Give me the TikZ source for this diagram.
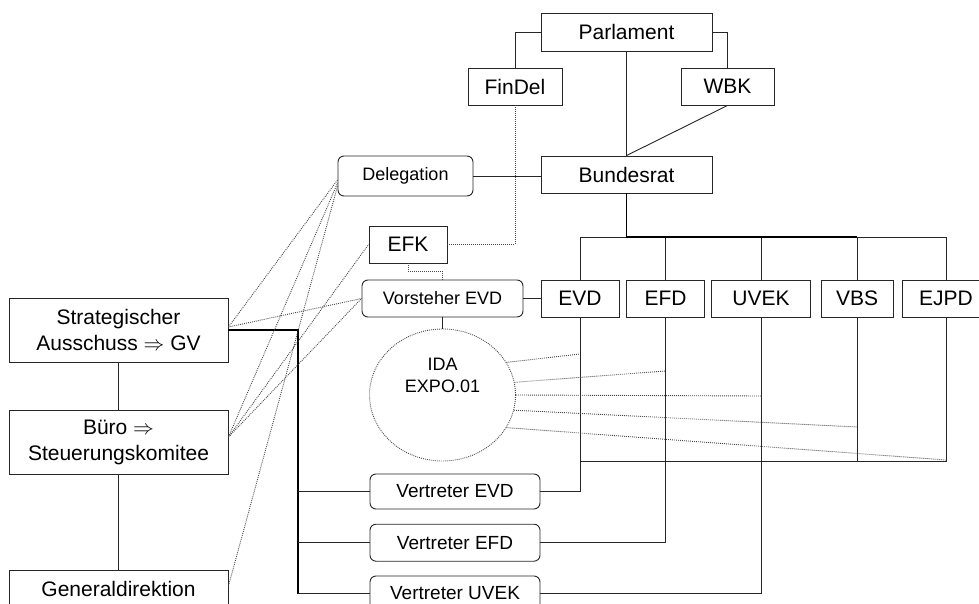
\documentclass[tikz,border=0pt]{standalone}
\usepackage{fontspec}
\setmainfont{Liberation Sans}
\usetikzlibrary{shapes.geometric}
\begin{document}
\begin{tikzpicture}[x=1pt,y=-1pt,
  every node/.style={font=\fontsize{21}{26}\selectfont},
  box/.style={draw=black!85, line width=0.9pt, inner sep=0pt, align=center, minimum height=37pt},
  rbox/.style={box, rounded corners=6pt, font=\fontsize{18}{22}\selectfont},
  vbox/.style={rbox, font=\fontsize{19}{22}\selectfont, minimum width=170pt, minimum height=35pt},
  ln/.style={line width=0.9pt, draw=black!85},
  thk/.style={line width=1.8pt, draw=black},
  dot/.style={line width=0.9pt, draw=black!72, dash pattern=on 0.9pt off 1.1pt}
]
\useasboundingbox (0,0) rectangle (979,604);
\clip (0,0) rectangle (979,604);

% top
\node[box, minimum width=171pt, minimum height=38pt] (parl) at (626.5,32) {Parlament};
\node[box, minimum width=94pt] (findel) at (515,86.5) {FinDel};
\node[box, minimum width=93pt] (wbk) at (727.5,86.5) {WBK};
\node[box, minimum width=171pt] (bund) at (626.5,174.5) {Bundesrat};
\node[rbox, minimum width=135pt, minimum height=40pt] (deleg) at (405.5,176) {Delegation};
\node[box, minimum width=78pt] (efk) at (408,244.5) {EFK};
\node[rbox, minimum width=161pt] (vorst) at (442.5,298.5) {Vorsteher EVD};

% departments
\node[box, minimum width=78pt] (evd) at (580,298.5) {EVD};
\node[box, minimum width=78pt] (efd) at (665.5,298.5) {EFD};
\node[box, minimum width=99pt] (uvek) at (761,298.5) {UVEK};
\node[box, minimum width=72pt] (vbs) at (857,298.5) {VBS};
\node[box, minimum width=88pt] (ejpd) at (946,298.5) {EJPD};

% left
\node[box, minimum width=219pt, minimum height=64pt] (strat) at (118.5,330) {Strategischer\\Ausschuss $\Rightarrow$ GV};
\node[box, minimum width=219pt, minimum height=64pt] (buero) at (118.5,442) {Büro $\Rightarrow$\\Steuerungskomitee};
\node[box, minimum width=219pt, minimum height=38pt] (gd) at (118.5,589) {Generaldirektion};

% IDA
\node[ellipse, dot, minimum width=146pt, minimum height=132pt, inner sep=0pt,
  label={[font=\fontsize{18}{22}\selectfont, align=center, yshift=20pt]center:IDA\\EXPO.01}] (ida) at (442.5,395) {};

% Vertreter
\node[vbox] (vevd) at (455,491.5) {Vertreter EVD};
\node[vbox, minimum height=37pt] (vefd) at (455,542.7) {Vertreter EFD};
\node[vbox] (vuvek) at (455,593.5) {Vertreter UVEK};

% coordinates
\coordinate (bus) at (626.5,237);
\coordinate (bb) at (0,461);
\coordinate (lv) at (298,330);
\coordinate (i1) at (580,354);
\coordinate (i2) at (665.5,371);
\coordinate (i3) at (761,396);
\coordinate (i4) at (857,427);
\coordinate (i5) at (946,460);

% solid connectors
\draw[ln] (parl.west) -| (findel.north);
\draw[ln] (parl.east) -| (wbk.north);
\draw[ln] (parl.south) -- (bund.north);
\draw[ln] (wbk.south) -- (bund.north);
\draw[ln] (deleg.east) -- (bund.west |- deleg.east);
\draw[ln] (evd.north) -- (evd.north |- bus) -- (ejpd.north |- bus) -- (ejpd.north);
\draw[ln] (efd.north) -- (efd.north |- bus);
\draw[ln] (uvek.north) -- (uvek.north |- bus);
\draw[ln] (vbs.north) -- (vbs.north |- bus);
\draw[thk] (bund.south) -- (bus) -- (vbs.north |- bus);
\draw[ln] (vorst.east) -- (evd.west);
\draw[ln] (vorst.south) -- (ida.north);
\draw[ln] (evd.south) |- (vevd.east);
\draw[ln] (efd.south) |- (vefd.east);
\draw[ln] (uvek.south) |- (vuvek.east);
\draw[ln] (vbs.south) -- (vbs.south |- bb);
\draw[ln] (ejpd.south) -- (ejpd.south |- bb) -- (evd.south |- bb);
\draw[ln] (strat.south) -- (buero.north);
\draw[ln] (buero.south) -- (gd.north);
\draw[thk] (strat.east) -- (lv) -- (lv |- vuvek.west);
\draw[ln] (lv |- vevd.west) -- (vevd.west);
\draw[ln] (lv |- vefd.west) -- (vefd.west);
\draw[ln] (lv |- vuvek.west) -- (vuvek.west);

% dotted connectors
\draw[dot] (findel.south) |- (efk.east);
\draw[dot] (efk.south) -- ++(0,8) -| (vorst.north);
\draw[dot] ([yshift=3pt]strat.east) -- ([yshift=-4pt]deleg.west);
\draw[dot] ([yshift=3pt]strat.east) -- (vorst.west);
\draw[dot] ([yshift=5pt]buero.east) -- ([yshift=-7pt]deleg.west);
\draw[dot] ([yshift=5pt]buero.east) -- (efk.west);
\draw[dot] ([yshift=5pt]buero.east) -- (vorst.west);
\draw[dot] ([yshift=3pt]gd.east) -- ([yshift=-10pt]deleg.west);
\draw[dot] (ida.27.6) -- (i1);
\draw[dot] (ida.10.5) -- (i2);
\draw[dot] (ida.0) -- (i3);
\draw[dot] (ida.-12.5) -- (i4);
\draw[dot] (ida.-27.3) -- (i5);
\end{tikzpicture}
\end{document}
